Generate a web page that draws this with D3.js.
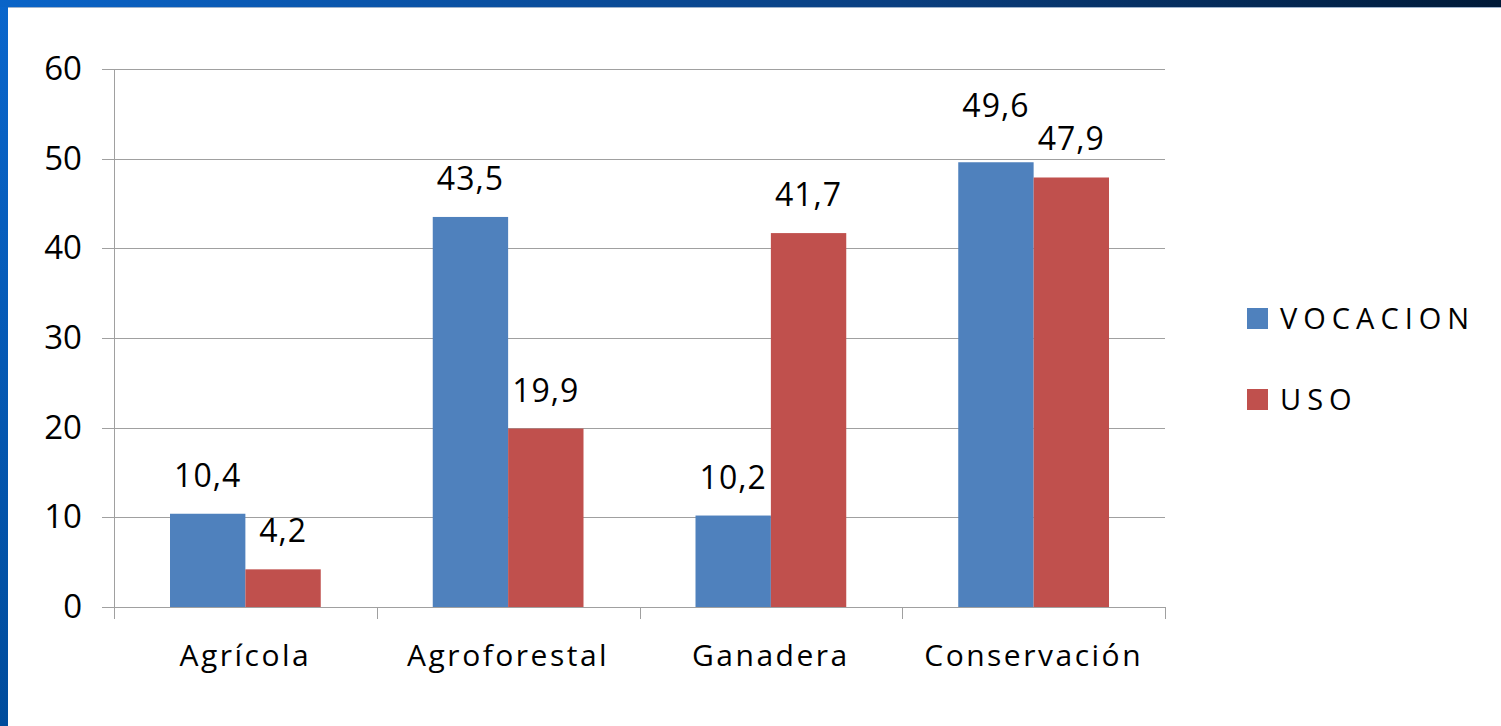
<!DOCTYPE html>
<head>
  <meta charset="utf-8">
  <title>Vocacion vs Uso</title>
  <script src="https://d3js.org/d3.v7.min.js"></script>
  <style>
    body { margin: 0; background: #fff; }
    text { font-family: 'Open Sans', sans-serif; fill: #000; }
    .y-axis path, .x-axis path { display: none; }
    .y-axis line, .x-axis line { stroke: #a0a0a0; }
    .y-axis text { font-size: 33px; }
    .x-axis text { font-size: 30px; letter-spacing: 2.5px; }
    .grid-line { stroke: #a0a0a0; stroke-width: 1; }
    .bar-label { font-size: 32px; text-anchor: middle; letter-spacing: 1px; }
    .legend text { font-size: 29px; letter-spacing: 6px; }
  </style>
</head>

<body>
  <script>
    var categories = ["Agrícola", "Agroforestal", "Ganadera", "Conservación"];
    var seriesNames = ["VOCACION", "USO"];
    var vocacion = [10.4, 43.5, 10.2, 49.6];
    var uso = [4.2, 19.9, 41.7, 47.9];
    var yTicks = [0, 10, 20, 30, 40, 50, 60];
    var colors = ["#4f81bd", "#c0504d"];

    var W = 1501, H = 726;
    var margin = {top: 69, left: 114, right: 336, bottom: 119};
    var width = W - margin.left - margin.right,
        height = H - margin.top - margin.bottom;

    var svg = d3.select("body").append("svg")
      .attr("width", W)
      .attr("height", H);

    // slide frame
    var defs = svg.append("defs");
    var gTop = defs.append("linearGradient").attr("id", "topGrad");
    gTop.append("stop").attr("offset", "0%").attr("stop-color", "#0a64c8");
    gTop.append("stop").attr("offset", "60%").attr("stop-color", "#0a3f80");
    gTop.append("stop").attr("offset", "100%").attr("stop-color", "#001a38");
    var gLeft = defs.append("linearGradient").attr("id", "leftGrad")
      .attr("x1", 0).attr("y1", 0).attr("x2", 0).attr("y2", 1);
    gLeft.append("stop").attr("offset", "0%").attr("stop-color", "#0a66cc");
    gLeft.append("stop").attr("offset", "100%").attr("stop-color", "#004c9c");

    svg.append("rect").attr("x", 0).attr("y", 0).attr("width", 8).attr("height", H)
      .attr("fill", "url(#leftGrad)");
    svg.append("rect").attr("x", 0).attr("y", 0).attr("width", W).attr("height", 7)
      .attr("fill", "url(#topGrad)");
    svg.append("line").attr("x1", 8).attr("x2", W).attr("y1", 7.5).attr("y2", 7.5)
      .attr("stroke", "#9fb3cc").attr("stroke-width", 1);

    var g = svg.append("g")
      .attr("transform", "translate(" + margin.left + "," + margin.top + ")");

    var x0 = d3.scaleBand().domain(categories).range([0, width]).paddingInner(0).paddingOuter(0);
    var x1 = d3.scaleBand().domain(seriesNames).range([56, x0.bandwidth() - 56]);
    var y = d3.scaleLinear().domain([0, 60]).range([height, 0]);

    // gridlines
    g.append("g").selectAll("line")
      .data(yTicks)
      .enter().append("line")
        .attr("class", "grid-line")
        .attr("x1", -12)
        .attr("x2", width)
        .attr("y1", d => Math.round(y(d)) + 0.5)
        .attr("y2", d => Math.round(y(d)) + 0.5);

    // y axis
    var yAxis = d3.axisLeft(y).tickValues(yTicks).tickSize(0).tickPadding(32);
    g.append("g").attr("class", "y-axis").call(yAxis);
    g.append("line")
      .attr("x1", 0.5).attr("x2", 0.5).attr("y1", 0).attr("y2", height + 12)
      .attr("stroke", "#a0a0a0");

    // x axis ticks at category boundaries
    g.append("g").selectAll("line")
      .data(categories)
      .enter().append("line")
        .attr("x1", d => Math.round(x0(d) + x0.step()) + 0.5)
        .attr("x2", d => Math.round(x0(d) + x0.step()) + 0.5)
        .attr("y1", height)
        .attr("y2", height + 12)
        .attr("stroke", "#a0a0a0");

    var xAxis = d3.axisBottom(x0).tickSize(0).tickPadding(38);
    g.append("g").attr("class", "x-axis")
      .attr("transform", "translate(0," + height + ")")
      .call(xAxis);

    var rows = categories.map((c, i) => ({cat: c, values: [vocacion[i], uso[i]]}));

    var groups = g.append("g").selectAll("g")
      .data(rows)
      .enter().append("g")
        .attr("transform", d => "translate(" + x0(d.cat) + ",0)");

    groups.selectAll("rect")
      .data(d => d.values.map((v, j) => ({name: seriesNames[j], v: v, j: j})))
      .enter().append("rect")
        .attr("x", d => x1(d.name))
        .attr("width", x1.bandwidth())
        .attr("y", d => y(d.v))
        .attr("height", d => height - y(d.v))
        .attr("fill", d => colors[d.j]);

    // label baselines; lift the higher label when the pair would sit too close
    var labelGap = 27, minSep = 20, liftSep = 33;
    groups.each(function(row) {
      var base = row.values.map(v => y(v) - labelGap);
      if (Math.abs(base[0] - base[1]) < minSep) {
        var hi = base[0] < base[1] ? 0 : 1;
        base[hi] = base[1 - hi] - liftSep;
      }
      d3.select(this).selectAll("text")
        .data(row.values.map((v, j) => ({name: seriesNames[j], v: v, j: j, by: base[j]})))
        .enter().append("text")
          .attr("class", "bar-label")
          .attr("x", d => x1(d.name) + x1.bandwidth() / 2)
          .attr("y", d => d.by)
          .text(d => String(d.v).replace(".", ","));
    });

    // legend
    var legend = svg.append("g").attr("class", "legend")
      .attr("transform", "translate(1247,308)");
    var items = legend.selectAll("g")
      .data(seriesNames)
      .enter().append("g")
        .attr("transform", (d, i) => "translate(0," + i * 81 + ")");
    items.append("rect")
      .attr("width", 21).attr("height", 21)
      .attr("fill", (d, i) => colors[i]);
    items.append("text")
      .attr("x", 33).attr("y", 21)
      .text(d => d);
  </script>
</body>
